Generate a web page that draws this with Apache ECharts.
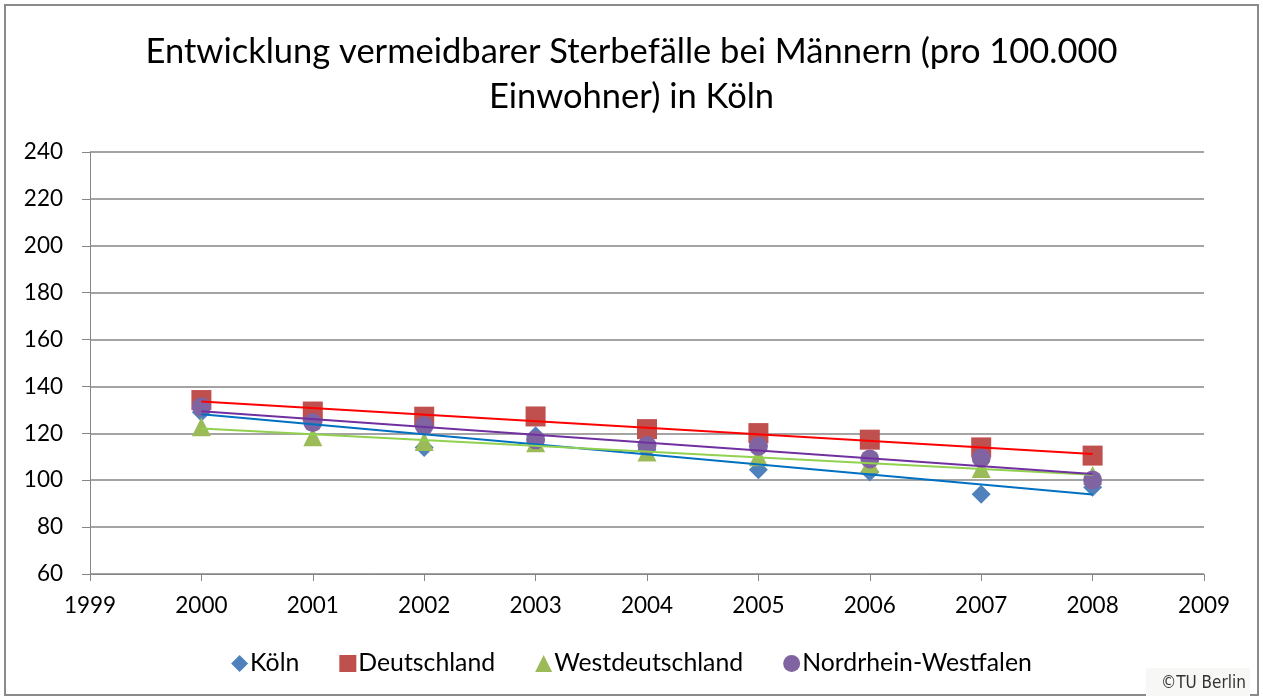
<!DOCTYPE html>
<html>
<head>
<meta charset="utf-8">
<script src="https://cdn.jsdelivr.net/npm/echarts@6/dist/echarts.min.js"></script>
<style>
  html, body { margin: 0; padding: 0; background: #fff; }
  #main { width: 1263px; height: 700px; }
</style>
</head>
<body>
<div id="main"></div>
<script>
// values
var years = [2000, 2001, 2002, 2003, 2004, 2005, 2006, 2007, 2008];
var koeln = [129, 125, 114, 119, 113, 104.5, 103.5, 94, 97];
var deutschland = [134.2, 129.3, 127.1, 127.2, 121.8, 120.1, 117.3, 114, 110.5];
var westdeutschland = [122.8, 118.5, 116.5, 116, 112, 110, 107, 105, 102];
var nrw = [131.3, 124.6, 123.2, 117.3, 114.8, 114.5, 109.1, 109.5, 100.1];

var seriesNames = ['Köln', 'Deutschland', 'Westdeutschland', 'Nordrhein-Westfalen'];
var markerColors = ['#4F81BD', '#C0504D', '#9BBB59', '#8064A2'];
var trendColors = ['#0070C0', '#FF0000', '#92D050', '#7030A0'];
var symbols = ['diamond', 'rect', 'triangle', 'circle'];
var symbolSizes = [19, 20, 19, 19];
var allValues = [koeln, deutschland, westdeutschland, nrw];

var fontFam = 'Lato, "Open Sans", sans-serif';

// linear trend (like Excel's trendline) from a series
function trend(vals) {
  var n = years.length, sx = 0, sy = 0, sxy = 0, sxx = 0;
  for (var i = 0; i < n; i++) {
    sx += years[i]; sy += vals[i];
    sxy += years[i] * vals[i]; sxx += years[i] * years[i];
  }
  var b = (n * sxy - sx * sy) / (n * sxx - sx * sx);
  var a = (sy - b * sx) / n;
  var x0 = years[0], x1 = years[n - 1];
  return [[x0, a + b * x0], [x1, a + b * x1]];
}

var series = [];
allValues.forEach(function (vals, i) {
  series.push({
    name: seriesNames[i],
    type: 'scatter',
    symbol: symbols[i],
    symbolSize: symbolSizes[i],
    itemStyle: { color: markerColors[i], opacity: 1 },
    data: years.map(function (y, k) { return [y, vals[k]]; }),
    z: 2
  });
});
allValues.forEach(function (vals, i) {
  series.push({
    name: seriesNames[i] + ' Trend',
    type: 'line',
    symbol: 'none',
    silent: true,
    lineStyle: { color: trendColors[i], width: 2 },
    data: trend(vals),
    z: 3
  });
});

var chart = echarts.init(document.getElementById('main'));
chart.setOption({
  backgroundColor: '#fff',
  animation: false,
  title: {
    text: 'Entwicklung vermeidbarer Sterbefälle bei Männern (pro 100.000\nEinwohner) in Köln',
    left: 'center',
    top: 24,
    textStyle: {
      fontFamily: fontFam,
      fontSize: 34.5,
      fontWeight: 'normal',
      color: '#000',
      lineHeight: 45
    }
  },
  grid: { left: 90, right: 59, top: 152, bottom: 126, containLabel: false },
  xAxis: {
    type: 'value',
    min: 1999,
    max: 2009,
    interval: 1,
    axisLine: { show: true, lineStyle: { color: '#868686', width: 1 } },
    axisTick: { show: true, length: 7, lineStyle: { color: '#868686' } },
    splitLine: { show: false },
    axisLabel: {
      color: '#000', fontFamily: fontFam, fontSize: 22.5, margin: 20,
      formatter: function (v) { return String(v); }
    }
  },
  yAxis: {
    type: 'value',
    min: 60,
    max: 240,
    interval: 20,
    axisLine: { show: true, lineStyle: { color: '#868686', width: 1 } },
    axisTick: { show: true, length: 8, lineStyle: { color: '#868686' } },
    splitLine: { show: true, lineStyle: { color: '#868686', width: 1.5 } },
    axisLabel: { color: '#000', fontFamily: fontFam, fontSize: 22.5, margin: 27 }
  },
  legend: {
    data: seriesNames.map(function (n, i) { return { name: n, icon: symbols[i] }; }),
    bottom: 19,
    left: 'center',
    itemWidth: 17,
    itemHeight: 17,
    itemGap: 40,
    textStyle: { color: '#000', fontFamily: fontFam, fontSize: 24.8, padding: [0, 0, 0, -3] }
  },
  graphic: [
    {
      type: 'rect',
      shape: { x: 5, y: 5, width: 1253, height: 690 },
      style: { fill: 'none', stroke: '#8a8a8a', lineWidth: 2 },
      silent: true
    },
    {
      type: 'rect',
      shape: { x: 1146, y: 668, width: 104, height: 28 },
      style: { fill: '#f7f7f5' },
      silent: true
    },
    {
      type: 'text',
      right: 17,
      bottom: 8,
      style: {
        text: '©TU Berlin',
        fill: '#333',
        fontSize: 17,
        fontFamily: '"Liberation Sans Narrow", "DejaVu Sans Condensed", sans-serif'
      }
    }
  ],
  series: series
});
</script>
</body>
</html>
